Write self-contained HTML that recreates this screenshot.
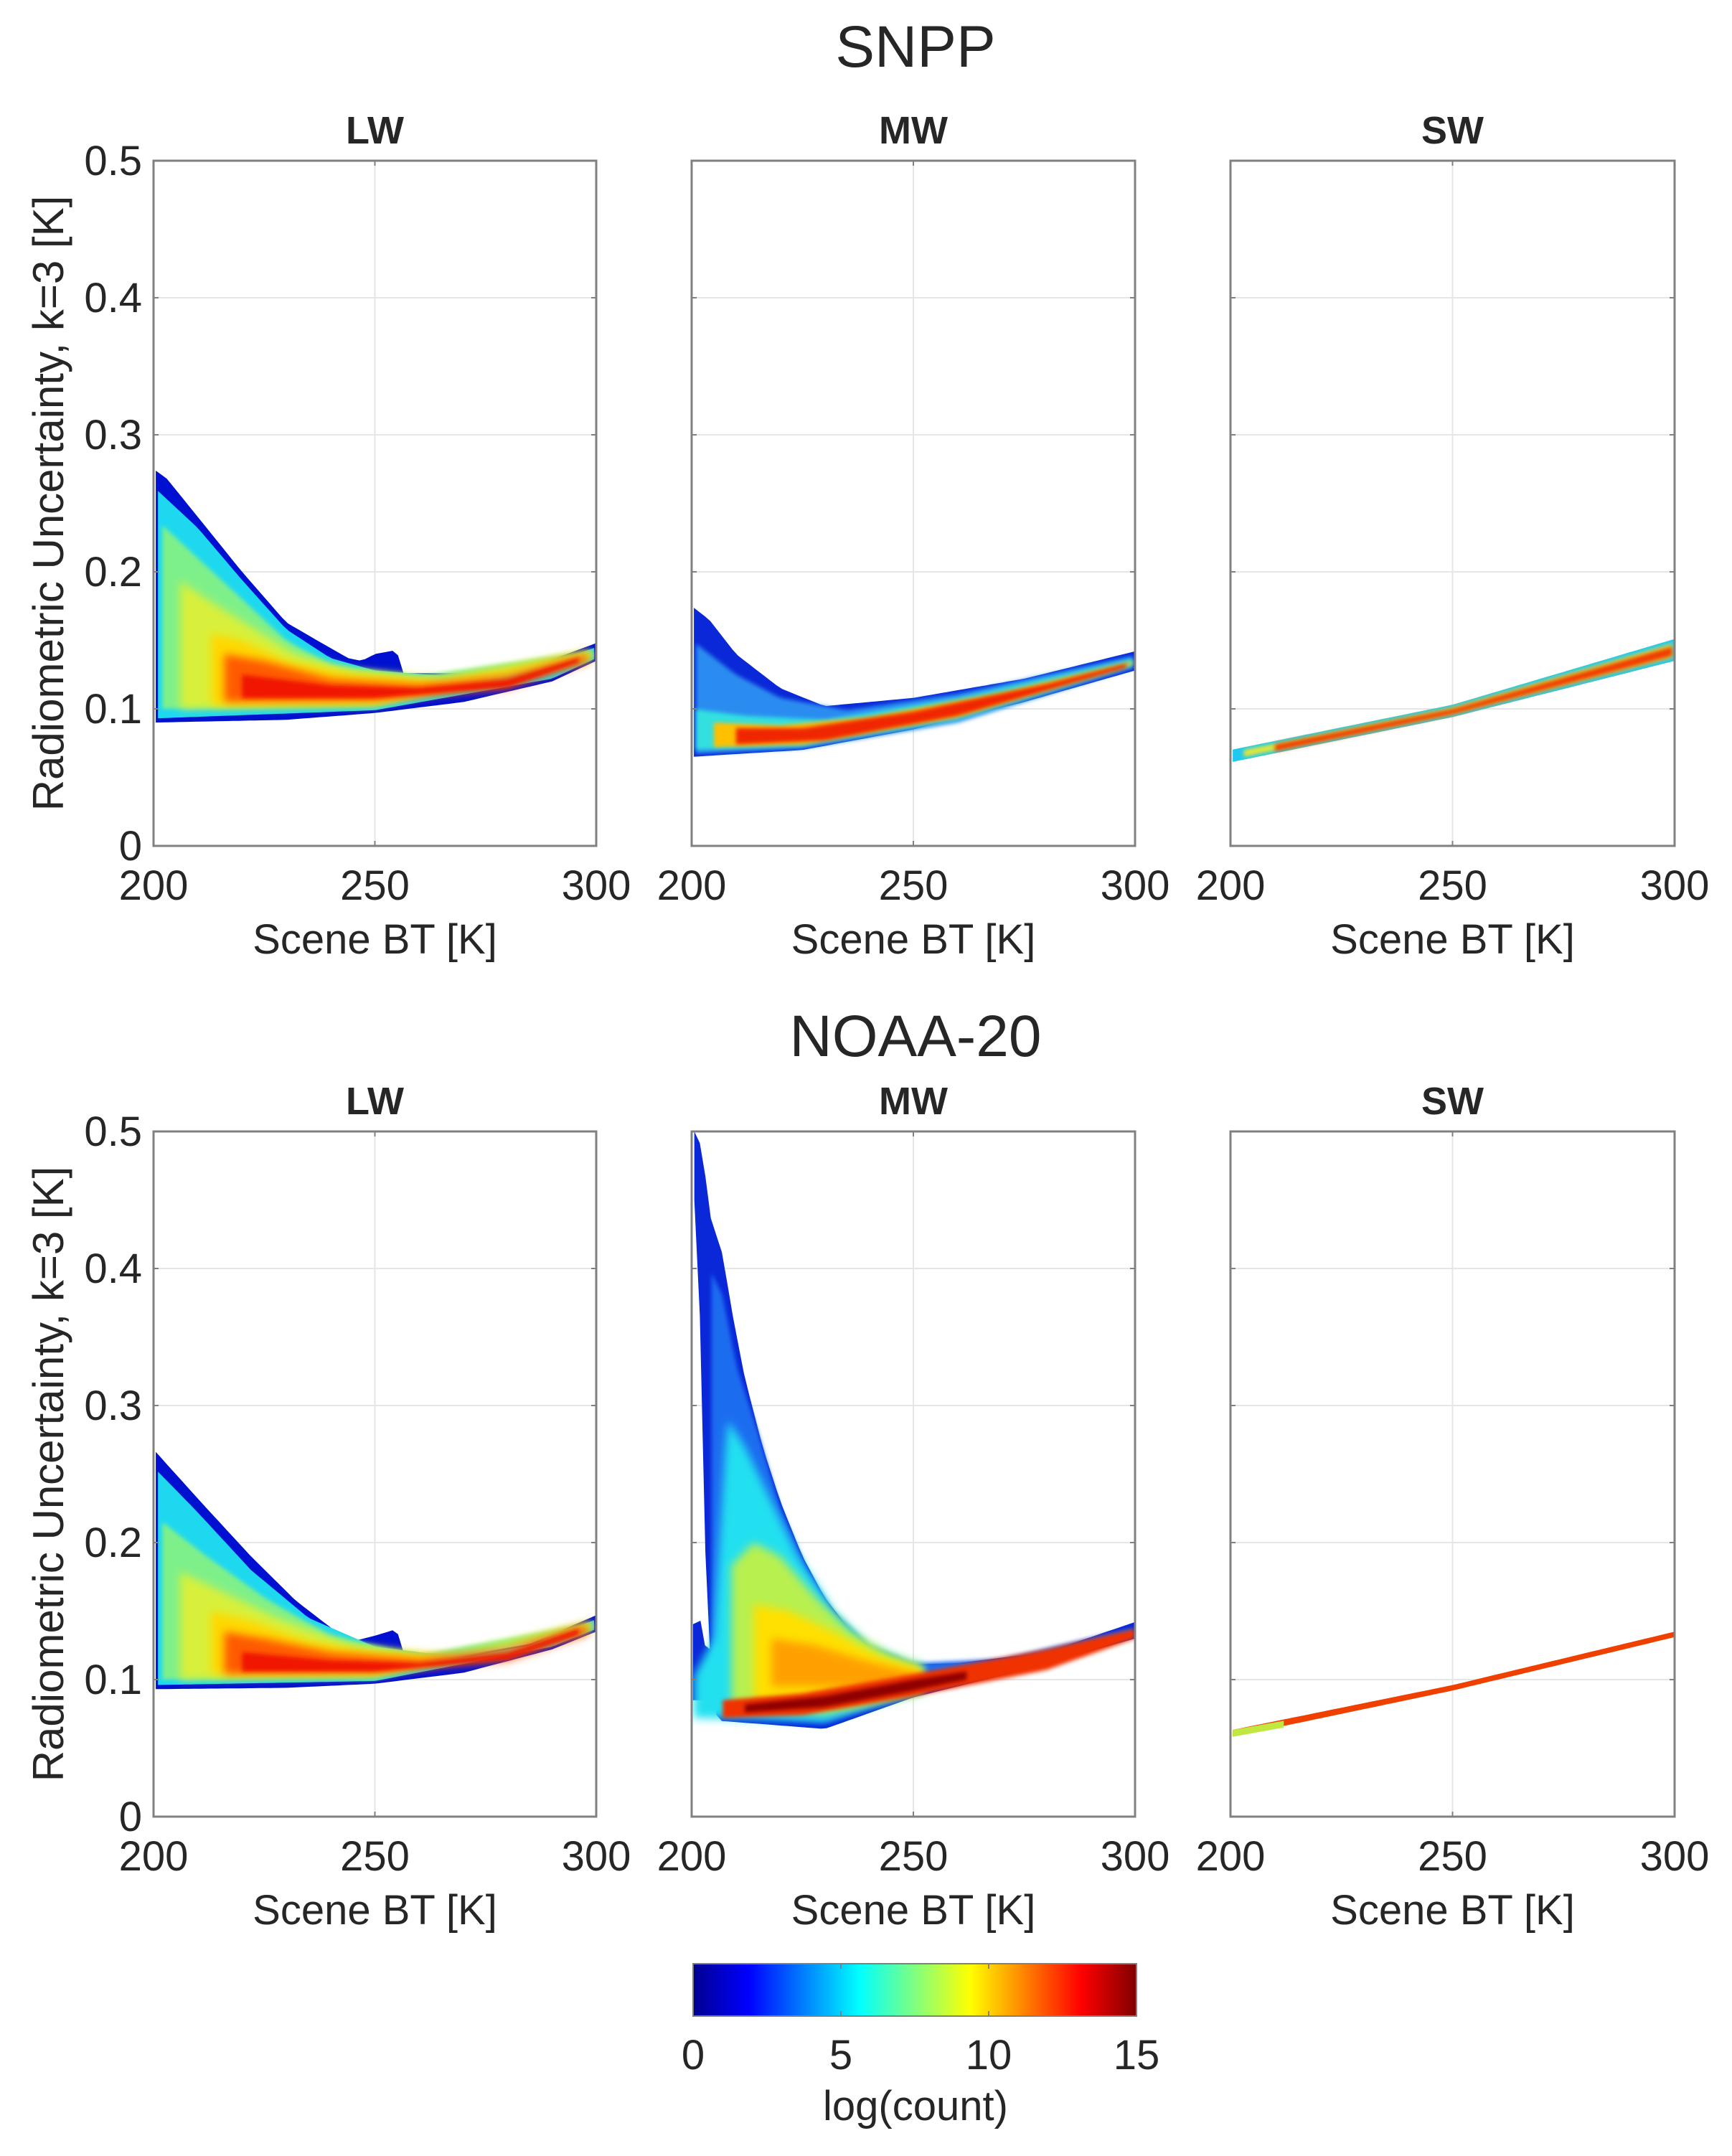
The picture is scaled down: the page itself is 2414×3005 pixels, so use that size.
<!DOCTYPE html>
<html><head><meta charset="utf-8">
<style>
html,body{margin:0;padding:0;background:#fff;}
svg{display:block;}
text{font-family:"Liberation Sans",Arial,sans-serif;fill:#262626;}
</style></head>
<body>
<svg id="s" width="2414" height="3005" viewBox="0 0 2414 3005" xmlns="http://www.w3.org/2000/svg">
<defs>
<linearGradient id="jet" x1="0" x2="1" y1="0" y2="0">
<stop offset="0" stop-color="#00008f"/>
<stop offset="0.125" stop-color="#0000ff"/>
<stop offset="0.375" stop-color="#00ffff"/>
<stop offset="0.625" stop-color="#ffff00"/>
<stop offset="0.875" stop-color="#ff0000"/>
<stop offset="1" stop-color="#800000"/>
</linearGradient>
<filter id="b1" x="-20%" y="-20%" width="140%" height="140%"><feGaussianBlur stdDeviation="6"/></filter>
<filter id="b2" x="-20%" y="-20%" width="140%" height="140%"><feGaussianBlur stdDeviation="3"/></filter>
<clipPath id="c0"><rect x="214" y="224" width="617" height="955"/></clipPath>
<clipPath id="c1"><rect x="964" y="224" width="618" height="955"/></clipPath>
<clipPath id="c2"><rect x="1715" y="224" width="619" height="955"/></clipPath>
<clipPath id="c3"><rect x="214" y="1577" width="617" height="955"/></clipPath>
<clipPath id="c4"><rect x="964" y="1577" width="618" height="955"/></clipPath>
<clipPath id="c5"><rect x="1715" y="1577" width="619" height="955"/></clipPath>
</defs>
<g id="g"></g>
</svg>
<script>
var NS="http://www.w3.org/2000/svg",G=document.getElementById('g');
function el(t,a,txt){var e=document.createElementNS(NS,t);for(var k in a)e.setAttribute(k,a[k]);if(txt!==undefined)e.textContent=txt;G.appendChild(e);return e;}
var L=[214,964,1715],W=[617,618,619],T=[224,1577],H=955;
function interp(p,t){if(t<=p[0][0])return p[0][1];for(var i=1;i<p.length;i++){if(t<=p[i][0]){var a=p[i-1],b=p[i];return a[1]+(b[1]-a[1])*(t-a[0])/(b[0]-a[0]);}}return p[p.length-1][1];}
function layer(pi,ri,up,lo,t0,t1,col,f){
 var l=L[pi],w=W[pi],top=T[ri],pts=[];
 function X(t){return l+(t-200)/100*w;} function Y(u){return top+H-u/0.5*H;}
 var n=80;
 for(var i=0;i<=n;i++){var t=t0+(t1-t0)*i/n;pts.push(X(t).toFixed(1)+','+Y(interp(up,t)).toFixed(1));}
 for(var i=n;i>=0;i--){var t=t0+(t1-t0)*i/n;pts.push(X(t).toFixed(1)+','+Y(interp(lo,t)).toFixed(1));}
 var a={points:pts.join(' '),fill:col,'clip-path':'url(#c'+(ri*3+pi)+')'};
 if(f)a.filter='url(#'+f+')';
 el('polygon',a);
}
function axes(pi,ri){
 var l=L[pi],w=W[pi],top=T[ri];
 for(var k=1;k<5;k++){var y=top+H-k*H/5;el('line',{x1:l,x2:l+w,y1:y,y2:y,stroke:'#e6e6e6','stroke-width':2});}
 el('line',{x1:l+w/2,x2:l+w/2,y1:top,y2:top+H,stroke:'#e6e6e6','stroke-width':2});
}
function frame(pi,ri,title){
 var l=L[pi],w=W[pi],top=T[ri];
 el('rect',{x:l,y:top,width:w,height:H,fill:'none',stroke:'#808080','stroke-width':3});
 for(var k=1;k<5;k++){var y=top+H-k*H/5;el('line',{x1:l,x2:l+7,y1:y,y2:y,stroke:'#808080','stroke-width':2});el('line',{x1:l+w-7,x2:l+w,y1:y,y2:y,stroke:'#808080','stroke-width':2});}
 el('line',{x1:l+w/2,x2:l+w/2,y1:top+H-7,y2:top+H,stroke:'#808080','stroke-width':2});
 el('line',{x1:l+w/2,x2:l+w/2,y1:top,y2:top+7,stroke:'#808080','stroke-width':2});
 el('text',{x:l+w/2,y:top-24,'font-size':54,'font-weight':'bold','text-anchor':'middle',fill:'#000'},title);
 var xs=[200,250,300];
 for(var i=0;i<3;i++)el('text',{x:l+i*w/2,y:top+H+75,'font-size':58,'text-anchor':'middle'},xs[i]);
 el('text',{x:l+w/2,y:top+H+150,'font-size':58,'text-anchor':'middle'},'Scene BT [K]');
 if(pi==0){
  var lab=['0','0.1','0.2','0.3','0.4','0.5'];
  for(var k=0;k<6;k++)el('text',{x:l-16,y:top+H-k*H/5+20,'font-size':58,'text-anchor':'end'},lab[k]);
  el('text',{x:0,y:0,'font-size':60,'text-anchor':'middle',transform:'translate(88,'+(top+H/2)+') rotate(-90)'},'Radiometric Uncertainty, k=3 [K]');
 }
}
for(var r=0;r<2;r++)for(var p=0;p<3;p++)axes(p,r);

// SNPP LW
var up1=[[200,0.275],[203,0.268],[210,0.24],[220,0.2],[230,0.163],[238,0.148],[244,0.137],[247,0.135],[250,0.14],[255,0.143],[256,0.126],[270,0.126],[285,0.13],[300,0.148]];
var lo1=[[200,0.09],[230,0.092],[250,0.097],[270,0.105],[290,0.12],[300,0.135]];
layer(0,0,up1,lo1,200.5,300,'#0010d0');
layer(0,0,[[200,0.262],[210,0.232],[220,0.194],[230,0.158],[240,0.137],[250,0.128],[270,0.123],[285,0.128],[300,0.145]],[[200,0.093],[250,0.099],[290,0.122],[300,0.137]],201,299.5,'#1ed8f0');
layer(0,0,[[200,0.24],[210,0.21],[220,0.18],[230,0.15],[240,0.132],[260,0.124],[300,0.143]],[[200,0.1],[250,0.102],[300,0.138]],202,299,'#7ef08a','b2');
layer(0,0,[[203,0.2],[212,0.18],[222,0.16],[232,0.14],[245,0.128],[265,0.122],[300,0.142]],[[203,0.1],[250,0.103],[300,0.138]],206,299,'#d8f03a','b1');
layer(0,0,[[213,0.155],[220,0.15],[230,0.135],[245,0.125],[265,0.12],[300,0.142]],[[213,0.103],[250,0.104],[300,0.137]],213,299,'#ffd800','b1');
layer(0,0,[[216,0.14],[225,0.135],[240,0.122],[260,0.118],[280,0.124],[298,0.14]],[[216,0.105],[250,0.106],[280,0.115],[298,0.134]],216,298,'#ff5a00','b1');
layer(0,0,[[220,0.125],[240,0.117],[260,0.115],[280,0.121],[296,0.137]],[[220,0.108],[250,0.108],[280,0.116],[296,0.134]],220,296,'#f01400','b2');

// SNPP MW
layer(1,0,[[200,0.175],[204,0.165],[210,0.14],[220,0.115],[230,0.102],[250,0.108],[275,0.122],[300,0.142]],[[200,0.065],[225,0.07],[250,0.085],[275,0.105],[300,0.128]],200.5,300,'#0a28d8');
layer(1,0,[[200,0.15],[210,0.125],[220,0.108],[235,0.099],[260,0.111],[300,0.139]],[[200,0.067],[225,0.071],[260,0.09],[300,0.13]],201,299.5,'#2a8cf0','b2');
layer(1,0,[[200,0.1],[212,0.095],[230,0.092],[260,0.108],[300,0.137]],[[200,0.07],[225,0.073],[260,0.092],[300,0.132]],201,299.5,'#30e0e0','b2');
layer(1,0,[[205,0.09],[220,0.088],[240,0.094],[270,0.112],[300,0.135]],[[205,0.072],[225,0.074],[260,0.094],[300,0.133]],205,299.5,'#ffc000','b2');
layer(1,0,[[210,0.086],[225,0.086],[250,0.098],[280,0.118],[298,0.133]],[[210,0.074],[230,0.077],[260,0.095],[298,0.13]],210,298,'#f02800','b2');

// SNPP SW
layer(2,0,[[200,0.07],[250,0.103],[300,0.151]],[[200,0.061],[250,0.094],[300,0.135]],200.5,300,'#20c8f0');
layer(2,0,[[200,0.068],[250,0.101],[300,0.148]],[[200,0.063],[250,0.096],[300,0.138]],203,299.5,'#e8e830','b2');
layer(2,0,[[210,0.074],[250,0.1],[300,0.146]],[[210,0.069],[250,0.096],[300,0.139]],210,299.5,'#f03c00','b2');

// NOAA LW
layer(0,1,[[200,0.268],[205,0.25],[212,0.225],[222,0.19],[232,0.158],[240,0.138],[245,0.128],[250,0.132],[255,0.137],[256,0.12],[270,0.118],[285,0.126],[300,0.147]],[[200,0.093],[230,0.094],[250,0.097],[270,0.105],[290,0.122],[300,0.135]],200.5,300,'#0010d0');
layer(0,1,[[200,0.255],[210,0.222],[222,0.18],[235,0.145],[250,0.124],[270,0.116],[285,0.125],[300,0.144]],[[200,0.096],[250,0.099],[290,0.124],[300,0.137]],201,299.5,'#1ed8f0');
layer(0,1,[[200,0.22],[212,0.19],[225,0.16],[240,0.132],[260,0.118],[300,0.142]],[[200,0.1],[250,0.101],[300,0.138]],202,299,'#7ef08a','b2');
layer(0,1,[[205,0.18],[215,0.165],[228,0.145],[245,0.125],[265,0.117],[300,0.142]],[[205,0.1],[250,0.103],[300,0.138]],206,299,'#d8f03a','b1');
layer(0,1,[[213,0.15],[222,0.143],[235,0.128],[250,0.12],[270,0.117],[300,0.142]],[[213,0.104],[250,0.104],[300,0.137]],213,299,'#ffd800','b1');
layer(0,1,[[216,0.135],[225,0.13],[240,0.12],[260,0.115],[280,0.122],[298,0.14]],[[216,0.104],[250,0.105],[280,0.114],[298,0.133]],216,298,'#ff5a00','b1');
layer(0,1,[[220,0.12],[240,0.114],[260,0.112],[280,0.119],[296,0.137]],[[220,0.106],[250,0.106],[280,0.115],[296,0.133]],220,296,'#f01400','b2');

// NOAA MW
layer(1,1,[[200,0.14],[202,0.143],[203,0.125],[205,0.12]],[[200,0.085],[205,0.085]],200.3,205,'#0a28d8');
layer(1,1,[[201,0.5],[202,0.49],[203,0.47],[204,0.44],[205,0.43],[207,0.41],[209,0.37],[212,0.32],[216,0.27],[220,0.23],[225,0.19],[230,0.16],[236,0.135],[242,0.12],[250,0.111],[260,0.112],[280,0.12],[300,0.142]],[[201,0.45],[202,0.35],[203,0.2],[204,0.12],[205,0.08],[206,0.07],[230,0.064],[250,0.087],[275,0.107],[300,0.13]],200.6,300,'#0a28d8');
layer(1,1,[[204,0.4],[207,0.38],[210,0.33],[215,0.28],[220,0.225],[226,0.18],[232,0.15],[240,0.125],[250,0.112],[270,0.115],[300,0.138]],[[204,0.1],[206,0.075],[230,0.068],[250,0.09],[300,0.132]],204.5,299.5,'#1a6cf0','b2');
layer(1,1,[[200,0.1],[205,0.13],[208,0.29],[212,0.27],[218,0.23],[224,0.19],[232,0.15],[240,0.125],[250,0.112]],[[200,0.072],[230,0.07],[250,0.09]],200.5,252,'#20e0f0','b1');
layer(1,1,[[208,0.18],[214,0.2],[220,0.19],[228,0.16],[236,0.135],[245,0.118],[252,0.11]],[[208,0.08],[230,0.075],[252,0.09]],209,252,'#b8f050','b1');
layer(1,1,[[214,0.155],[222,0.15],[232,0.135],[242,0.118],[252,0.108]],[[214,0.085],[235,0.082],[252,0.093]],214,252,'#ffe000','b1');
layer(1,1,[[218,0.13],[228,0.125],[240,0.113],[252,0.104]],[[218,0.095],[240,0.095],[252,0.095]],218,252,'#ffa000','b1');
layer(1,1,[[207,0.085],[225,0.09],[250,0.104],[260,0.11],[280,0.122],[300,0.137]],[[207,0.072],[225,0.074],[250,0.088],[280,0.107],[300,0.13]],207,300,'#f03000','b2');
layer(1,1,[[212,0.082],[230,0.088],[250,0.1],[262,0.106]],[[212,0.076],[230,0.08],[250,0.092],[262,0.1]],212,262,'#900000','b2');

// NOAA SW
layer(2,1,[[200,0.063],[250,0.096],[300,0.135]],[[200,0.058],[250,0.092],[300,0.131]],200.5,300,'#f04000');
layer(2,1,[[200,0.063],[212,0.07]],[[200,0.058],[212,0.065]],200.5,212,'#c0e840');

for(var r=0;r<2;r++){var tt=['LW','MW','SW'];for(var p=0;p<3;p++)frame(p,r,tt[p]);}
el('text',{x:1276,y:93,'font-size':82,'text-anchor':'middle',fill:'#000'},'SNPP');
el('text',{x:1276,y:1472,'font-size':82,'text-anchor':'middle',fill:'#000'},'NOAA-20');
// colorbar
el('rect',{x:966,y:2737,width:618,height:73,fill:'url(#jet)',stroke:'#808080','stroke-width':2});
var cl=['0','5','10','15'];
for(var i=0;i<4;i++){var x=966+i*618/3;el('text',{x:x,y:2884,'font-size':58,'text-anchor':'middle'},cl[i]);el('line',{x1:x,x2:x,y1:2737,y2:2744,stroke:'#808080','stroke-width':2});el('line',{x1:x,x2:x,y1:2803,y2:2810,stroke:'#808080','stroke-width':2});}
el('text',{x:1276,y:2955,'font-size':58,'text-anchor':'middle'},'log(count)');
</script>
</body></html>
